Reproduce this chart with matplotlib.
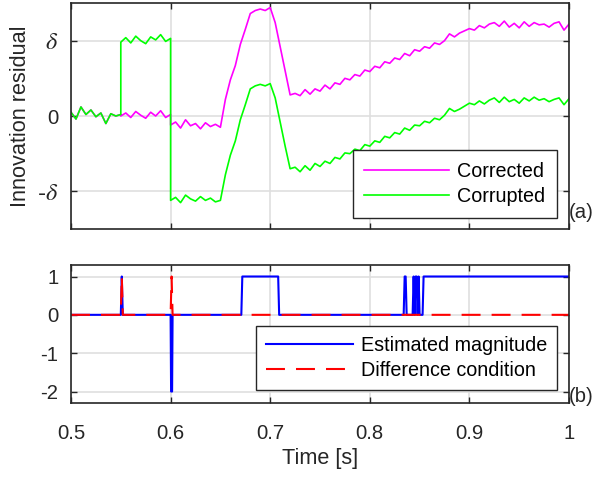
import numpy as np
import matplotlib
matplotlib.use('Agg')
import matplotlib.pyplot as plt

plt.rcParams['font.family'] = ['Liberation Sans', 'DejaVu Sans']
plt.rcParams['mathtext.fontset'] = 'stix'
plt.rcParams['axes.unicode_minus'] = False

TICK_FS = 14.6
LABEL_FS = 15.6
LEG_FS = 14.2

# time grid of the residuals, 0.5 .. 1.0 s (0.55 and 0.6 appear twice: the jumps)
t = np.concatenate([np.linspace(0.5, 0.55, 11),
                    np.linspace(0.55, 0.6, 11),
                    np.linspace(0.6, 1.0, 81)])

corrupted = [0.05, -0.04, 0.12, 0.02, 0.08, -0.01, 0.04, -0.10, 0.03, 0.00, 0.02,
             0.98, 1.04, 0.97, 1.06, 1.00, 0.96, 1.05, 1.01, 1.08, 0.99, 1.03,
             -1.12, -1.08, -1.15, -1.05, -1.10, -1.13, -1.07, -1.12, -1.09, -1.14,
             -1.12, -0.78, -0.52, -0.33, -0.05, 0.15, 0.36, 0.40, 0.42, 0.40,
             0.43, 0.24, -0.08, -0.40, -0.70,
             -0.68, -0.74, -0.66, -0.72, -0.63, -0.67, -0.60, -0.63, -0.55, -0.57,
             -0.49, -0.50, -0.44, -0.46, -0.38, -0.40, -0.33, -0.35, -0.27, -0.29,
             -0.22, -0.24, -0.16, -0.19, -0.12, -0.13, -0.07, -0.09, -0.03, -0.05,
             0.01, 0.10, 0.06, 0.09, 0.13, 0.17, 0.15, 0.20, 0.16, 0.21,
             0.24, 0.18, 0.25, 0.19, 0.22, 0.17, 0.24, 0.20, 0.25, 0.21,
             0.23, 0.19, 0.22, 0.24, 0.15, 0.23]

corrected = [0.05, -0.04, 0.12, 0.02, 0.08, -0.01, 0.04, -0.10, 0.03, 0.00, 0.02,
             0.00, 0.04, -0.02, 0.06, 0.01, -0.03, 0.05, 0.00, 0.07, -0.02, 0.02,
             -0.12, -0.08, -0.16, -0.05, -0.13, -0.10, -0.17, -0.09, -0.14, -0.11,
             -0.15, 0.22, 0.48, 0.67, 0.95, 1.15, 1.36, 1.40, 1.42, 1.40,
             1.44, 1.24, 0.92, 0.60, 0.28,
             0.30, 0.27, 0.35, 0.29, 0.36, 0.33, 0.41, 0.36, 0.44, 0.42,
             0.50, 0.48, 0.55, 0.53, 0.61, 0.59, 0.66, 0.64, 0.72, 0.70,
             0.77, 0.75, 0.83, 0.80, 0.88, 0.86, 0.92, 0.90, 0.97, 0.95,
             1.00, 1.09, 1.05, 1.10, 1.13, 1.16, 1.14, 1.20, 1.17, 1.22,
             1.24, 1.19, 1.26, 1.18, 1.23, 1.17, 1.25, 1.19, 1.24, 1.21,
             1.22, 1.18, 1.23, 1.25, 1.14, 1.22]

# estimated magnitude (events)
mag_t = [0.5, 0.550, 0.551, 0.552, 0.600, 0.6005, 0.6015, 0.602, 0.671, 0.672, 0.708, 0.709,
         0.834, 0.835, 0.836, 0.837, 0.843, 0.844, 0.845, 0.846, 0.847, 0.848,
         0.849, 0.850, 0.853, 0.854, 1.0]
mag_v = [0, 0, 1, 0, 0, -2, -2, 0, 0, 1, 1, 0,
         0, 1, 1, 0, 0, 1, 0, 1, 1, 0,
         1, 0, 0, 1, 1]

# difference condition
diff_t = [0.5, 0.550, 0.551, 0.552, 0.600, 0.601, 0.602, 1.0]
diff_v = [0, 0, 1, 0, 0, 1, 0, 0]

fig = plt.figure(figsize=(5.94, 4.78), dpi=100)
ax1 = fig.add_axes([71/594, 1-229/478, 498/594, 226/478])
ax2 = fig.add_axes([71/594, 1-403/478, 498/594, 138/478])

ax1.plot(t, corrected, color='#ff00ff', lw=1.2, label='Corrected')
ax1.plot(t, corrupted, color='#00ff00', lw=1.2, label='Corrupted')
ax1.set_ylim(-1.5, 1.5)
ax1.set_yticks([-1, 0, 1])
ax1.set_yticklabels(['-$\\delta$', '0', '$\\delta$'])
ax1.set_ylabel('Innovation residual', fontsize=LABEL_FS, color='#262626')
ax1.yaxis.set_label_coords(-0.08, 0.5)
ax1.set_xticklabels([])
ax1.legend(loc='lower right', bbox_to_anchor=(0.976, 0.05), borderaxespad=0,
           fancybox=False, edgecolor='#262626', framealpha=1, fontsize=LEG_FS,
           handlelength=4.3, handletextpad=0.4, labelspacing=0.3, borderpad=0.6)

ax2.plot(mag_t, mag_v, color='#0000ff', lw=1.5, label='Estimated magnitude')
ax2.plot(diff_t, diff_v, color='#ff0000', lw=1.5, dashes=(9.1, 5.3), label='Difference condition')
ax2.set_ylim(-2.3, 1.3)
ax2.set_yticks([-2, -1, 0, 1])
ax2.set_xlabel('Time [s]', fontsize=LABEL_FS, color='#262626', labelpad=4)
ax2.legend(loc='lower right', bbox_to_anchor=(0.976, 0.094), borderaxespad=0,
           fancybox=False, edgecolor='#262626', framealpha=1, fontsize=LEG_FS,
           handlelength=4.4, handletextpad=0.4, labelspacing=0.3, borderpad=0.5)

for ax in (ax1, ax2):
    ax.set_xlim(0.5, 1.0)
    ax.set_xticks([0.5, 0.6, 0.7, 0.8, 0.9, 1.0])
    ax.grid(True, color='#dfdfdf', lw=1.2)
    ax.set_axisbelow(True)
    ax.tick_params(direction='in', top=True, right=True, length=4, width=1.0,
                   color='#262626', labelcolor='#262626', labelsize=TICK_FS)
    ax.tick_params(axis='y', pad=9)
    ax.tick_params(axis='x', pad=15)
    for s in ax.spines.values():
        s.set_color('#262626')
        s.set_linewidth(1.2)

# the delta labels are drawn a bit larger, like in the original
for lbl in ax1.get_yticklabels():
    if 'delta' in lbl.get_text():
        lbl.set_fontsize(17.5)

ax2.set_xticklabels(['0.5', '0.6', '0.7', '0.8', '0.9', '1'])

fig.text(569/594, 1-213/478, '(a)', ha='left', va='center', color='#262626', fontsize=TICK_FS)
fig.text(569/594, 1-396/478, '(b)', ha='left', va='center', color='#262626', fontsize=TICK_FS)

fig.savefig('out.png', dpi=100)
